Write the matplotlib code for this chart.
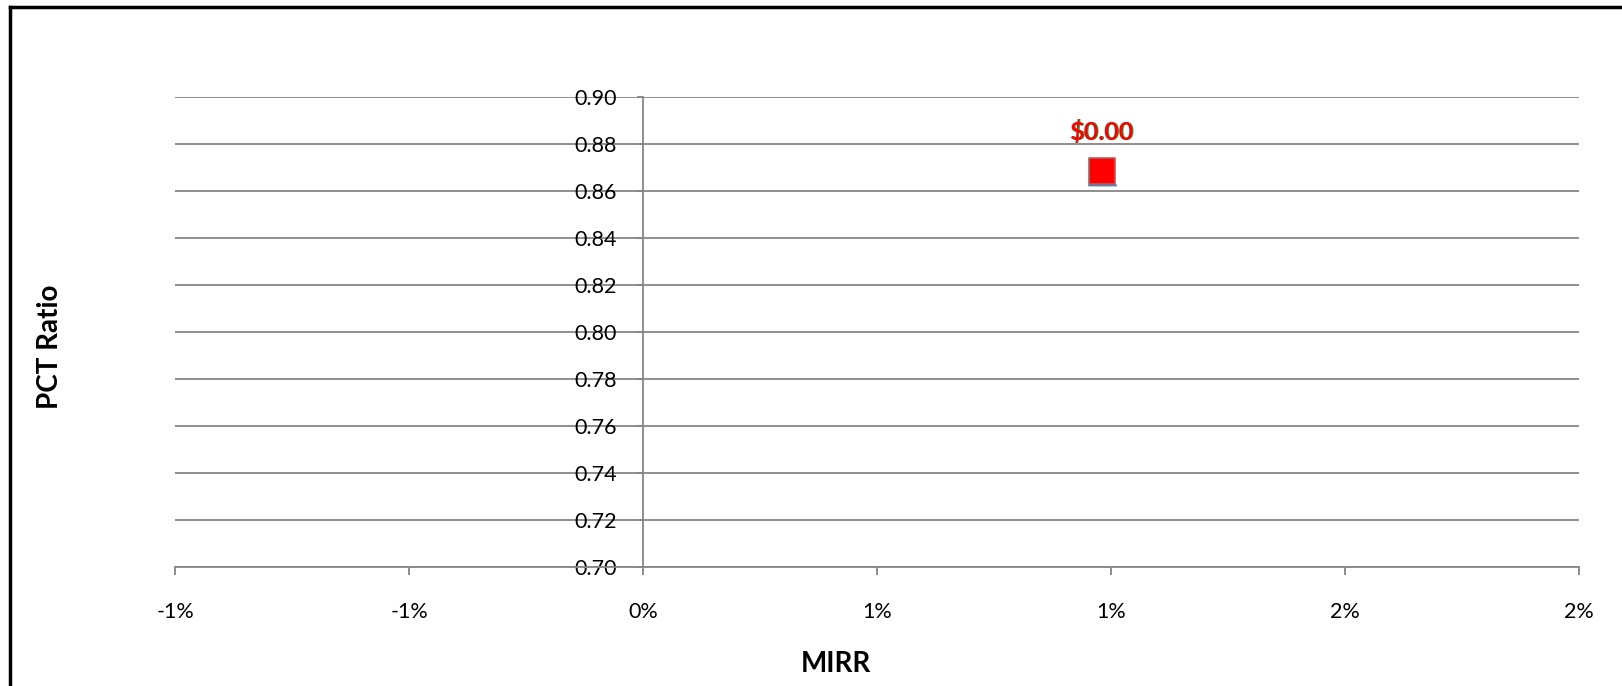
import matplotlib
matplotlib.use("Agg")
import matplotlib.pyplot as plt
from matplotlib.ticker import FuncFormatter
from matplotlib.lines import Line2D

# datos
mirr = [0.0098]
pct_ratio = [0.8684]
etiquetas = ["$0.00"]

x_ticks = [-0.01, -0.005, 0.0, 0.005, 0.01, 0.015, 0.02]
y_ticks = [0.70, 0.72, 0.74, 0.76, 0.78, 0.80, 0.82, 0.84, 0.86, 0.88, 0.90]

gris = "#868686"
plt.rcParams["font.family"] = ["Lato", "DejaVu Sans"]

fig = plt.figure(figsize=(16.22, 6.86), dpi=100)
ax = fig.add_axes([175 / 1622, 1 - 567 / 686, (1579 - 175) / 1622, (567 - 96.7) / 686])

ax.set_xlim(x_ticks[0], x_ticks[-1])
ax.set_ylim(y_ticks[0], y_ticks[-1])
ax.set_xticks(x_ticks)
ax.set_yticks(y_ticks)


def formato_pct(v, pos):
    # redondeo tipo Excel (lejos del cero)
    p = v * 100
    r = int(abs(p) + 0.5 + 1e-9)
    if p < 0 and r != 0:
        return "-%d%%" % r
    return "%d%%" % r


ax.xaxis.set_major_formatter(FuncFormatter(formato_pct))
ax.yaxis.set_major_formatter(FuncFormatter(lambda v, p: "%.2f" % v))

for s in ["top", "right"]:
    ax.spines[s].set_visible(False)
ax.spines["left"].set_position(("data", 0))
for s in ["left", "bottom"]:
    ax.spines[s].set_color(gris)
    ax.spines[s].set_linewidth(1.3)

ax.yaxis.grid(True, color=gris, linewidth=1.3)
ax.set_axisbelow(True)
ax.tick_params(axis="x", direction="out", length=6, width=1.3, color=gris,
               labelsize=15.5, pad=19, labelcolor="black")
ax.tick_params(axis="y", direction="out", length=4, width=1.3, color=gris,
               labelsize=15.5, pad=15, labelcolor="black")
for t in ax.get_yticklabels():
    t.set_zorder(5)

# marcador triangulo azul detras del cuadrado rojo
ax.scatter(mirr, pct_ratio, marker="^", s=460, color="#4F81BD", zorder=3,
           linewidths=0)
ax.scatter(mirr, pct_ratio, marker="s", s=330, color="#FF0000", zorder=4,
           edgecolors="#B06060", linewidths=1.2)

for x, y, txt in zip(mirr, pct_ratio, etiquetas):
    ax.annotate(txt, (x, y), xytext=(0.7, 28), textcoords="offset points",
                ha="center", va="center", fontsize=18, fontweight="bold",
                color="#00B050", zorder=6)
    ax.annotate(txt, (x, y), xytext=(0, 28), textcoords="offset points",
                ha="center", va="center", fontsize=18, fontweight="bold",
                color="#FF0000", zorder=7)

fig.text(836 / 1622, 1 - 664 / 686, "MIRR", ha="center", va="center",
         fontsize=20, fontweight="bold")
fig.text(50 / 1622, 1 - 347 / 686, "PCT Ratio", ha="center", va="center",
         rotation=90, fontsize=20, fontweight="bold")

# borde del area del grafico (solo izquierda y arriba visibles)
fig.add_artist(Line2D([10 / 1622, 10 / 1622], [0, 1 - 7 / 686],
                      transform=fig.transFigure, color="black", linewidth=2.5))
fig.add_artist(Line2D([10 / 1622, 1], [1 - 7 / 686, 1 - 7 / 686],
                      transform=fig.transFigure, color="black", linewidth=2.5))

fig.savefig("out.png", dpi=100)
